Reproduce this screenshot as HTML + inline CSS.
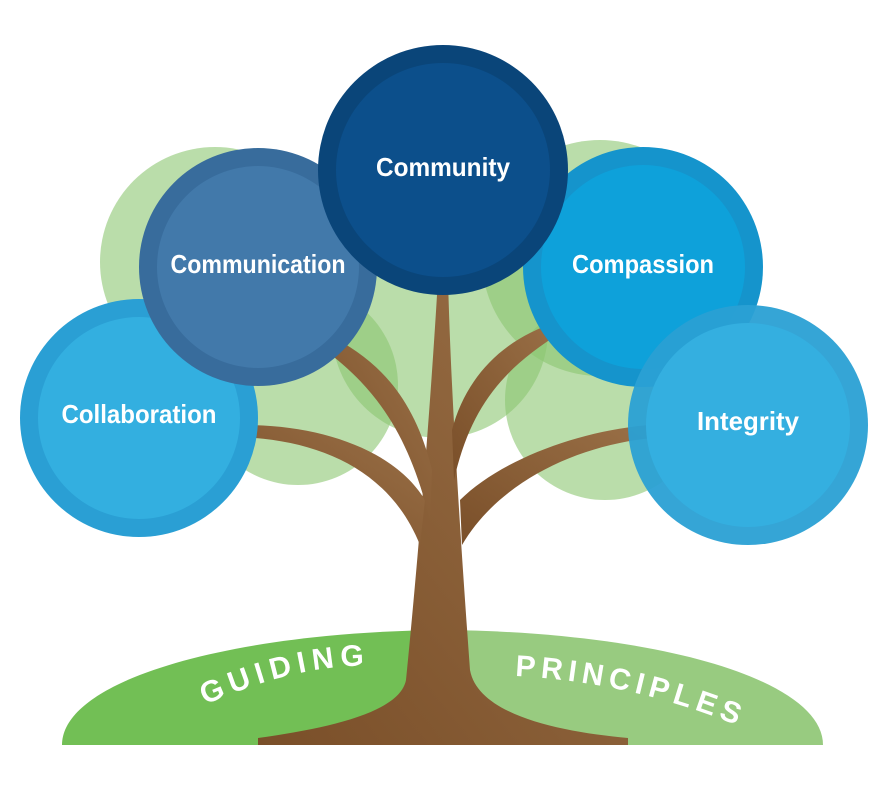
<!DOCTYPE html>
<html><head><meta charset="utf-8"><style>body{margin:0;background:#fff}svg{display:block}</style></head><body>
<svg width="886" height="801" viewBox="0 0 886 801" xmlns="http://www.w3.org/2000/svg">
<defs>
<linearGradient id="tr" x1="0" y1="1" x2="1" y2="0"><stop offset="0" stop-color="#7a4f29"/><stop offset="1" stop-color="#9a7047"/></linearGradient>
<path id="arcL" d="M205,705 Q300,662 380,666"/>
<path id="arcR" d="M515,676 Q640,682 760,735"/>
</defs>
<!-- ground -->
<path d="M62,745 C62,680 230,632 443,630 L443,745Z" fill="#72bf55"/>
<path d="M443,630 C660,632 823,680 823,745 L443,745Z" fill="#98cb80"/>
<text font-family="Liberation Sans, sans-serif" font-weight="bold" font-size="30" fill="#fff" letter-spacing="5"><textPath href="#arcL" textLength="170" lengthAdjust="spacing">GUIDING</textPath></text>
<text font-family="Liberation Sans, sans-serif" font-weight="bold" font-size="30" fill="#fff" letter-spacing="4"><textPath href="#arcR" textLength="232" lengthAdjust="spacing">PRINCIPLES</textPath></text>
<!-- green foliage -->
<g fill="#8cc672">
<circle cx="215" cy="262" r="115" opacity="0.6"/>
<circle cx="298" cy="385" r="100" opacity="0.6"/>
<circle cx="440" cy="330" r="108" opacity="0.6"/>
<circle cx="600" cy="258" r="118" opacity="0.6"/>
<circle cx="605" cy="400" r="100" opacity="0.6"/>
</g>
<!-- trunk -->
<g fill="url(#tr)">
<path d="M438,278 L448,278 C451,400 462,560 470,670 C478,715 560,732 628,738 L628,745 L258,745 L258,738 C330,728 400,712 406,680 C418,560 431,400 438,278Z"/>
<path d="M240,425 C320,424 395,450 425,500 L420,545 C390,470 320,440 240,437Z"/>
<path d="M328,335 C380,360 415,400 432,470 L430,520 C410,440 380,390 322,348Z"/>
<path d="M557,322 C500,340 465,380 452,430 L454,480 C470,410 500,370 562,332Z"/>
<path d="M650,425 C580,430 500,460 460,500 L462,545 C500,480 580,445 652,438Z"/>
</g>
<!-- blue circles -->
<circle cx="139" cy="418" r="119" fill="#2a9fd4"/><circle cx="139" cy="418" r="101" fill="#33afe0"/>
<circle cx="258" cy="267" r="119" fill="#386c9c"/><circle cx="258" cy="267" r="101" fill="#4279aa"/>
<circle cx="643" cy="267" r="120" fill="#1594cc"/><circle cx="643" cy="267" r="102" fill="#0ea1da"/>
<circle cx="748" cy="425" r="120" fill="#2aa0d4" opacity="0.95"/><circle cx="748" cy="425" r="102" fill="#34afe0"/>
<circle cx="443" cy="170" r="125" fill="#0a4579"/><circle cx="443" cy="170" r="107" fill="#0c4f8b"/>
<g font-family="Liberation Sans, sans-serif" font-weight="bold" font-size="26" fill="#fff" text-anchor="middle">
<text x="139" y="423" textLength="155" lengthAdjust="spacingAndGlyphs">Collaboration</text>
<text x="258" y="273" textLength="175" lengthAdjust="spacingAndGlyphs">Communication</text>
<text x="443" y="176" textLength="134" lengthAdjust="spacingAndGlyphs">Community</text>
<text x="643" y="273" textLength="142" lengthAdjust="spacingAndGlyphs">Compassion</text>
<text x="748" y="430" textLength="102" lengthAdjust="spacingAndGlyphs">Integrity</text>
</g>
</svg>
</body></html>
